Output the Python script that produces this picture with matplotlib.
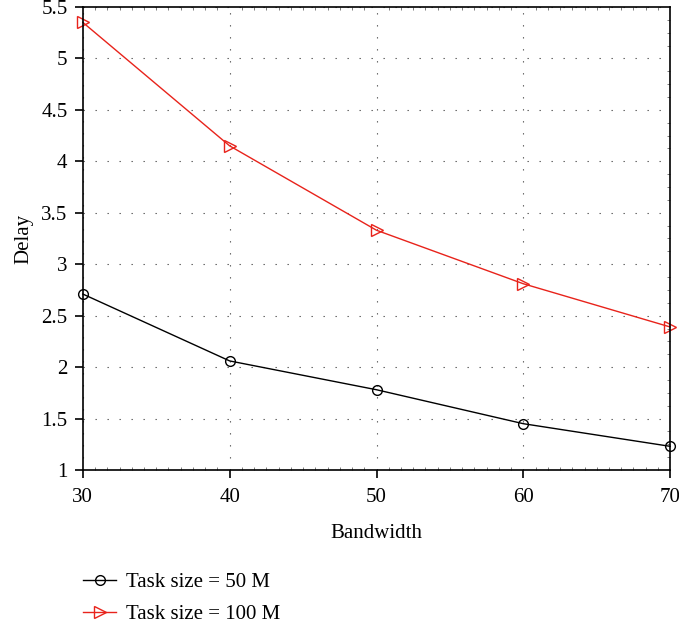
import matplotlib
matplotlib.use("Agg")
import matplotlib.pyplot as plt
from matplotlib.ticker import AutoMinorLocator

plt.rcParams['font.family'] = ['Liberation Serif', 'DejaVu Serif']

bandwidth = [30, 40, 50, 60, 70]
delay_50m = [2.71, 2.06, 1.78, 1.45, 1.23]
delay_100m = [5.35, 4.15, 3.33, 2.81, 2.39]

fig = plt.figure(figsize=(6.79, 6.33), dpi=100)
ax = fig.add_axes([0.122, 0.2575, 0.865, 0.7315])

l1, = ax.plot(bandwidth, delay_50m, color='black', lw=1.0, marker='o',
              markersize=7, markerfacecolor='none', markeredgewidth=1.0,
              label='Task size = 50 M', clip_on=False)
l2, = ax.plot(bandwidth, delay_100m, color='#e8231b', lw=1.0, marker='>',
              markersize=8, markerfacecolor='none', markeredgewidth=1.0,
              label='Task size = 100 M', clip_on=False)

ax.set_xlim(30, 70)
ax.set_ylim(1, 5.5)
ax.set_xticks(bandwidth)
ax.set_yticks([1, 1.5, 2, 2.5, 3, 3.5, 4, 4.5, 5, 5.5])
ax.set_yticklabels(['1', '1.5', '2', '2.5', '3', '3.5', '4', '4.5', '5', '5.5'])
ax.xaxis.set_minor_locator(AutoMinorLocator(12))
ax.yaxis.set_minor_locator(AutoMinorLocator(4))
ax.tick_params(which='major', direction='out', length=6, width=1.2,
               labelsize=15, top=False, right=False, pad=5)
ax.tick_params(axis='x', which='major', pad=7)
ax.tick_params(which='minor', direction='in', length=2.5, width=0.6,
               color='#666666', top=True, right=True, left=False, bottom=True)
ax.grid(True, which='major', linestyle=(0, (1.2, 9.6)), color='#555555', lw=0.8)
for s in ax.spines.values():
    s.set_linewidth(1.2)

ax.set_xlabel('Bandwidth', fontsize=15, labelpad=12)
ax.set_ylabel('Delay', fontsize=15, labelpad=6)

fig.legend(handles=[l1, l2], loc='upper left', bbox_to_anchor=(0.122, 0.096),
           frameon=False, fontsize=15, handlelength=1.6, handletextpad=0.45,
           labelspacing=0.62, borderaxespad=0, borderpad=0)

fig.savefig('out.png', dpi=100)
